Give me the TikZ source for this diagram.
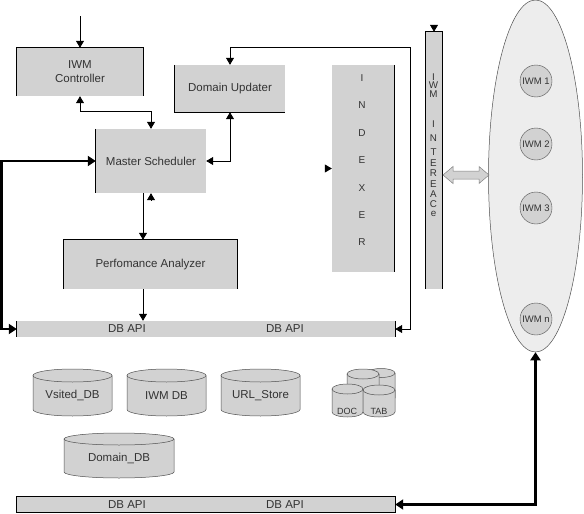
\documentclass[tikz,border=0pt]{standalone}
\usepackage{fontspec}
\setmainfont{Liberation Sans}
\usetikzlibrary{arrows.meta,shapes.geometric,calc}
\definecolor{boxgray}{HTML}{D2D2D2}
\definecolor{cloudgray}{HTML}{EDEDED}
\definecolor{txt}{HTML}{333333}
\definecolor{cylline}{HTML}{505050}
\newcommand{\dbcyl}[7]{%
  \pgfmathsetmacro{\cylrx}{(#3-#2)/2}%
  \pgfmathsetmacro{\cylcx}{(#3+#2)/2}%
  \fill[boxgray] (#2,-#4) -- (#2,-#5) arc[start angle=180,end angle=360,x radius=\cylrx,y radius=#6] -- (#3,-#4) arc[start angle=0,end angle=180,x radius=\cylrx,y radius=#6] -- cycle;
  \draw[cyl] (#2,-#4) -- (#2,-#5) arc[start angle=180,end angle=360,x radius=\cylrx,y radius=#6] -- (#3,-#4);
  \draw[cyl] (\cylcx,-#4) ellipse[x radius=\cylrx, y radius=#6];
  \node[lbl] (#1) at (\cylcx,{-(#4+#6+#5)/2}) {#7};
}
\begin{document}
\begin{tikzpicture}[x=1pt,y=1pt,
  mainfont/.style={font=\fontsize{11.5}{14}\selectfont},
  box/.style={fill=boxgray, draw=none, inner sep=0pt, text=txt, mainfont, align=center},
  lbl/.style={text=txt, inner sep=0pt, mainfont},
  border/.style={line width=0.7pt, black},
  edge/.style={line width=0.8pt, black},
  arr/.style={edge, -{Triangle[length=7pt,width=8pt]}},
  arrb/.style={edge, {Triangle[length=7pt,width=8pt]}-{Triangle[length=7pt,width=8pt]}},
  fat/.style={line width=2.8pt, black, {Triangle[length=8pt,width=10pt]}-{Triangle[length=8pt,width=10pt]}},
  cyl/.style={draw=cylline, line width=0.5pt},
  iwm/.style={circle, fill=boxgray, draw=cylline, line width=0.4pt, minimum size=32pt, inner sep=0pt, text=txt, font=\fontsize{9.5}{11}\selectfont},
  ifl/.style={text=txt, inner sep=0pt, font=\fontsize{9.8}{10}\selectfont},
  fatarrow/.style={fill=boxgray, draw=gray, line width=0.5pt, line join=miter},
]
\useasboundingbox (0,0) rectangle (584,-514);

% main boxes
\node[box, minimum width=126pt, minimum height=48pt] (ctrl) at (80,-72) {IWM\\Controller};
\node[box, minimum width=110pt, minimum height=47pt] (du) at (230,-88.5) {Domain Updater};
\node[box, minimum width=110pt, minimum height=64pt] (ms) at (151,-161) {Master Scheduler};
\node[box, minimum width=173pt, minimum height=49pt] (pa) at (150.5,-264.5) {Perfomance Analyzer};
\node[box, minimum width=378pt, minimum height=16pt] (api1) at (206,-329) {};
\node[lbl] (api1a) at (127,-329) {DB API};
\node[lbl] (api1b) at (285,-329) {DB API};
\node[box, minimum width=62pt, minimum height=207pt] (idx) at (363,-168.5) {};
\node[lbl, align=center, font=\fontsize{10}{27.4}\selectfont] (idxt) at (362,-160.2) {I\\N\\D\\E\\X\\E\\R};
\node[box, minimum width=16pt, minimum height=257pt] (iwmi) at (434,-160.5) {};
\foreach \ch/\yy [count=\i] in {I/77, W/85.5, M/94, I/124, N/138, T/152, E/163, R/173.5, E/184, A/194, C/204, e/214}
  \node[ifl] (if\i) at (433.5,-\yy) {\ch};
\node[box, minimum width=378pt, minimum height=15pt] (api2) at (206,-504.5) {};
\node[lbl] (api2a) at (127,-505) {DB API};
\node[lbl] (api2b) at (285,-505) {DB API};

% partial borders
\draw[border] (ctrl.south west) -- (ctrl.north west) -- (ctrl.north east) -- (ctrl.south east);
\draw[border] (du.north west) -- (du.south west) -- (du.south east);
\draw[border] (ms.north west) -- (ms.south west);
\draw[border] (pa.south west) -- (pa.north west) -- (pa.north east) -- (pa.south east);
\draw[border] (api1.north west) -- (api1.south west);
\draw[border] (api1.north east) -- (api1.south east);
\draw[border] (idx.north east) -- (idx.south east);
\draw[border] (iwmi.south west) -- (iwmi.north west) -- (iwmi.north east) -- (iwmi.south east);
\draw[border] (api2.south west) rectangle (api2.north east);

% cloud of IWMs
\node[ellipse, fill=cloudgray, draw=cylline, line width=0.5pt, minimum width=94pt, minimum height=352pt, inner sep=0pt] (cloud) at (535.5,-176) {};
\node[iwm] (w1) at (536,-81) {IWM 1};
\node[iwm] (w2) at (536,-144) {IWM 2};
\node[iwm] (w3) at (536,-208) {IWM 3};
\node[iwm] (wn) at (536,-319) {IWM n};

% double block arrow between interface and cloud
\coordinate (dl) at (443,-175);
\coordinate (dr) at (489,-175);
\draw[fatarrow] (dl) -- ++(10,8.5) -- ++(0,-4.5) -- ($(dr)+(-10,4)$) -- ++(0,4.5) -- (dr)
  -- ++(-10,-8.5) -- ++(0,4.5) -- ($(dl)+(10,-4)$) -- ++(0,-4.5) -- cycle;

% databases
\dbcyl{vdb}{33}{112}{375.5}{409.5}{6.5}{Vsited\_DB}
\dbcyl{iwmdb}{127}{206}{375.5}{409.5}{6.5}{IWM DB}
\dbcyl{url}{221}{300}{375.5}{409.5}{6.5}{URL\_Store}
\dbcyl{domdb}{64}{174}{439}{472}{6}{Domain\_DB}
\dbcyl{c1}{367}{395}{373}{398}{4.5}{}
\dbcyl{c2}{347}{379}{374}{400}{5}{}
\dbcyl{c3}{332}{363}{389}{412}{5}{}
\dbcyl{c4}{363}{395}{390}{412}{5}{}
\node[text=txt, inner sep=0pt, font=\fontsize{9}{10}\selectfont] (doc) at (347,-411) {DOC};
\node[text=txt, inner sep=0pt, font=\fontsize{9}{10}\selectfont] (tab) at (379,-411) {TAB};

% connectors
\coordinate (topin) at (80,-16);
\draw[arr] (topin) -- (ctrl.north);
\draw[arrb] (ctrl.south) |- ($(ms.north)+(0,17)$) -- (ms.north);
\draw[arrb] (ms.east) -| (du.south);
\draw[fat] (api1.west) -- ++(-15,0) |- (ms.west);
\draw[arr] ([xshift=-8pt]ms.south) -- ([xshift=-8pt]ms.south |- pa.north);
\coordinate (msup) at ($(ms.south)+(0,-7.5)$);
\draw[arr] (msup) -- (ms.south);
\draw[arr] ([xshift=-7.5pt]pa.south) -- ([xshift=-7.5pt]pa.south |- api1.north);
\draw[arrb] (du.north) -- ++(0,17) -| ($(api1.east)+(15,0)$) -- (api1.east);
\coordinate (idxin) at ($(idx.west)+(-7,0)$);
\draw[arr] (idxin) -- (idx.west);
\coordinate (iwmiin) at ($(iwmi.north)+(0,7)$);
\draw[arr] (iwmiin) -- (iwmi.north);
\draw[fat] (api2.east) -| (cloud.south);
\end{tikzpicture}
\end{document}
